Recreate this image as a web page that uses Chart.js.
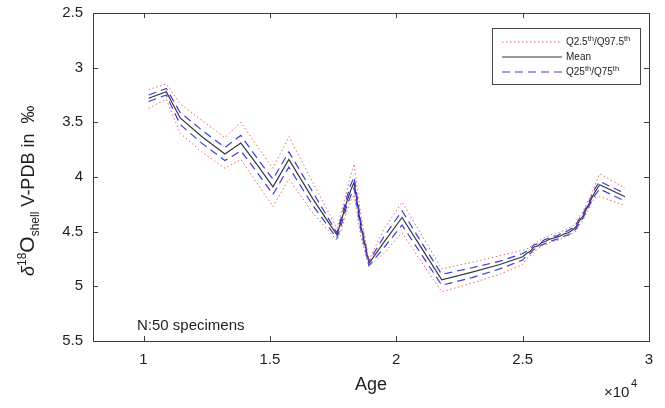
<!DOCTYPE html>
<html><head><meta charset="utf-8">
<script src="https://cdn.jsdelivr.net/npm/chart.js@4.4.1/dist/chart.umd.min.js"></script>
<style>html,body{margin:0;padding:0;background:#fff;}#wrap{width:665px;height:408px;}</style>
</head><body><div id="wrap"><canvas id="c" width="665" height="408"></canvas></div>
<script>
const ages  = [10200,10900,11450,12300,13220,13850,14500,15120,15750,16700,17650,17850,18050,18200,18330,18600,18920,19500,20230,21000,21800,23000,24100,25000,25150,25300,25450,25600,25750,25900,26050,26200,26350,26500,26650,26800,26950,27100,27250,27400,27550,27700,27850,28050,29050];
const meanV = [3.28,3.22,3.46,3.63,3.79,3.69,3.89,4.09,3.84,4.20,4.53,4.38,4.22,4.12,4.05,4.45,4.79,4.60,4.37,4.65,4.94,4.87,4.80,4.73,4.70,4.68,4.64,4.63,4.60,4.59,4.57,4.56,4.55,4.54,4.52,4.51,4.49,4.46,4.40,4.35,4.28,4.21,4.14,4.07,4.18];
const q025V = [3.20,3.15,3.33,3.48,3.64,3.50,3.72,3.92,3.63,4.05,4.47,4.30,4.12,3.98,3.88,4.35,4.76,4.48,4.23,4.53,4.84,4.78,4.72,4.67,4.66,4.64,4.61,4.59,4.57,4.55,4.54,4.52,4.52,4.50,4.49,4.47,4.45,4.43,4.36,4.31,4.23,4.16,4.08,3.97,4.10];
const q975V = [3.37,3.29,3.60,3.77,3.92,3.84,4.06,4.27,4.02,4.33,4.58,4.46,4.31,4.22,4.16,4.55,4.82,4.70,4.51,4.78,5.05,4.97,4.89,4.80,4.75,4.72,4.68,4.66,4.63,4.62,4.60,4.59,4.58,4.57,4.55,4.54,4.52,4.50,4.44,4.39,4.32,4.25,4.19,4.18,4.26];
const q25V  = [3.25,3.19,3.41,3.57,3.73,3.62,3.83,4.02,3.77,4.14,4.51,4.35,4.18,4.07,4.00,4.41,4.77,4.55,4.31,4.60,4.89,4.83,4.77,4.70,4.68,4.66,4.62,4.61,4.59,4.57,4.56,4.54,4.54,4.52,4.51,4.49,4.47,4.44,4.38,4.33,4.26,4.19,4.11,4.04,4.15];
const q75V  = [3.31,3.25,3.52,3.69,3.85,3.76,3.96,4.16,3.91,4.26,4.56,4.42,4.26,4.17,4.10,4.49,4.81,4.65,4.44,4.71,4.99,4.92,4.84,4.76,4.72,4.70,4.66,4.65,4.62,4.61,4.59,4.58,4.57,4.56,4.54,4.53,4.51,4.48,4.42,4.37,4.30,4.23,4.17,4.11,4.22];
const xTicks = [10000,15000,20000,25000,30000];
const yTicks = [2.5,3,3.5,4,4.5,5,5.5];

const pts = arr => ages.map((a,i)=>({x:a,y:arr[i]}));
const RED = 'rgb(235,100,100)', BLUE = 'rgb(60,60,215)', BLK = 'rgb(55,55,55)';
const FONT = '"Liberation Sans", Arial, sans-serif';

const deco = {
  id:'deco',
  afterDraw(chart){
    const ctx = chart.ctx, a = chart.chartArea, xs = chart.scales.x, ys = chart.scales.y;
    ctx.save();
    ctx.strokeStyle = 'rgb(60,60,60)'; ctx.lineWidth = 1;
    ctx.strokeRect(Math.round(a.left)+0.5, Math.round(a.top)+0.5, Math.round(a.right-a.left), Math.round(a.bottom-a.top));
    ctx.beginPath();
    xTicks.forEach(v=>{const px=Math.round(xs.getPixelForValue(v))+0.5;
      ctx.moveTo(px,a.bottom); ctx.lineTo(px,a.bottom-5); ctx.moveTo(px,a.top); ctx.lineTo(px,a.top+5);});
    yTicks.forEach(v=>{const py=Math.round(ys.getPixelForValue(v))+0.5;
      ctx.moveTo(a.left,py); ctx.lineTo(a.left+5,py); ctx.moveTo(a.right,py); ctx.lineTo(a.right-5,py);});
    ctx.stroke();
    ctx.fillStyle = 'rgb(30,30,30)';
    ctx.font = '18px '+FONT; ctx.textAlign='center'; ctx.textBaseline='alphabetic';
    ctx.fillText('Age', (a.left+a.right)/2, 390);
    ctx.textAlign='left';
    ctx.font = '15px '+FONT; ctx.fillText('\u00d710', 604, 397);
    ctx.font = '11px '+FONT; ctx.fillText('4', 631, 387);
    ctx.font = '15px '+FONT; ctx.fillText('N:50 specimens', 137, 330);
    ctx.save();
    ctx.translate(34, 0); ctx.rotate(-Math.PI/2);
    let x = -276; const base = 0;
    const seg = (t, size, dy, italic) => { ctx.font = (italic?'italic ':'')+size+'px '+FONT; ctx.fillText(t, x, base+dy); x += ctx.measureText(t).width; };
    seg('\u03b4',18,0,true); seg('18',12,-8); seg('O',21,0); seg('shell',12,5); seg(' V-PDB in  \u2030',18,0);
    ctx.restore();
    const L=492,T=28,W=148,H=56;
    ctx.fillStyle='#fff'; ctx.fillRect(L,T,W,H);
    ctx.strokeStyle='rgb(70,70,70)'; ctx.lineWidth=1; ctx.strokeRect(L+0.5,T+0.5,W,H);
    const rows=[{y:42,c:RED,d:[1.5,2.5],w:1},{y:57,c:BLK,d:[],w:1.2},{y:72,c:BLUE,d:[8,5],w:1.2}];
    rows.forEach(r=>{ctx.beginPath();ctx.setLineDash(r.d);ctx.strokeStyle=r.c;ctx.lineWidth=r.w;ctx.moveTo(502,r.y);ctx.lineTo(562,r.y);ctx.stroke();});
    ctx.setLineDash([]);
    ctx.fillStyle='rgb(30,30,30)';
    const lt=(parts,y)=>{let xx=566;parts.forEach(p=>{ctx.font=(p[1]?'7.5px ':'10px ')+FONT;ctx.fillText(p[0],xx,y+3+(p[1]?-4:0));xx+=ctx.measureText(p[0]).width;});};
    lt([['Q2.5',0],['th',1],['/Q97.5',0],['th',1]],42);
    lt([['Mean',0]],57);
    lt([['Q25',0],['th',1],['/Q75',0],['th',1]],72);
    ctx.restore();
  }
};

new Chart(document.getElementById('c'),{
  type:'line',
  data:{datasets:[
    {label:'Q2.5', data:pts(q025V), borderColor:RED, borderWidth:1, borderDash:[1.5,2.5]},
    {label:'Q97.5', data:pts(q975V), borderColor:RED, borderWidth:1, borderDash:[1.5,2.5]},
    {label:'Q25', data:pts(q25V), borderColor:BLUE, borderWidth:1.2, borderDash:[8,5]},
    {label:'Q75', data:pts(q75V), borderColor:BLUE, borderWidth:1.2, borderDash:[8,5]},
    {label:'Mean', data:pts(meanV), borderColor:BLK, borderWidth:1.2}
  ]},
  options:{
    responsive:false, animation:false, devicePixelRatio:1,
    layout:{padding:{top:13,right:16,left:0,bottom:0}},
    elements:{point:{radius:0},line:{tension:0}},
    plugins:{legend:{display:false},tooltip:{enabled:false}},
    scales:{
      x:{type:'linear',min:8000,max:30000,
        afterBuildTicks:s=>{s.ticks=xTicks.map(v=>({value:v}));},
        afterFit:s=>{s.height=67;},
        grid:{display:false},border:{display:false},
        ticks:{callback:v=>String(v/10000),color:'rgb(30,30,30)',font:{family:FONT,size:15},padding:2,maxRotation:0}},
      y:{type:'linear',min:2.5,max:5.5,reverse:true,
        afterBuildTicks:s=>{s.ticks=yTicks.map(v=>({value:v}));},
        afterFit:s=>{s.width=93;},
        grid:{display:false},border:{display:false},
        ticks:{callback:v=>String(v),color:'rgb(30,30,30)',font:{family:FONT,size:15},padding:2}}
    }
  },
  plugins:[deco]
});
</script></body></html>
